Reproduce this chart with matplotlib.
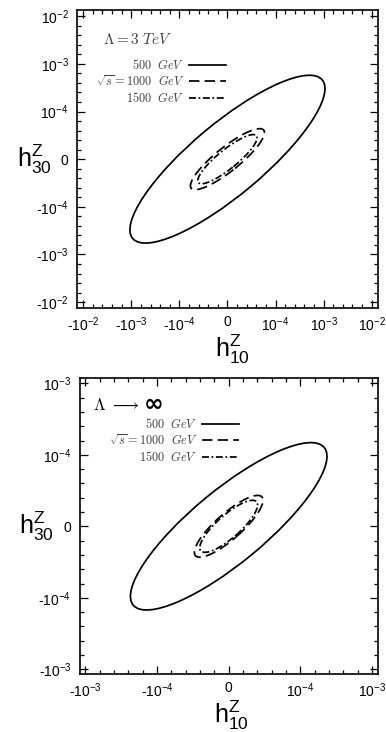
"""Allowed regions in the (h10^Z, h30^Z) plane for three collider energies, two cut-off scales."""
import matplotlib
matplotlib.use("Agg")
import matplotlib.pyplot as plt
from matplotlib.lines import Line2D
from matplotlib.patches import Ellipse
from matplotlib.ticker import FixedLocator, MultipleLocator

plt.rcParams["font.family"] = ["Liberation Sans", "DejaVu Sans"]
plt.rcParams["mathtext.fontset"] = "custom"
plt.rcParams["mathtext.rm"] = "Liberation Sans"
plt.rcParams["mathtext.it"] = "Liberation Sans:italic"
plt.rcParams["mathtext.bf"] = "Liberation Sans:bold"

# --- data: axes are in "decade" units (0 = zero, +-1 = +-1e-4, +-2 = +-1e-3, +-3 = +-1e-2) ---------- #
ENERGIES_GEV = ["500", "1000", "1500"]

TOP_TICKS = [-3, -2, -1, 0, 1, 2, 3]
TOP_TICK_LABELS = ["-$10^{-2}$", "-$10^{-3}$", "-$10^{-4}$", "0", "$10^{-4}$", "$10^{-3}$", "$10^{-2}$"]
TOP_SEMI_MAJOR = [2.58, 0.97, 0.78]
TOP_SEMI_MINOR = [0.75, 0.25, 0.20]
TOP_ANGLE_DEG = [40.2, 39.0, 39.2]

BOTTOM_TICKS = [-2, -1, 0, 1, 2]
BOTTOM_TICK_LABELS = ["-$10^{-3}$", "-$10^{-4}$", "0", "$10^{-4}$", "$10^{-3}$"]
BOTTOM_SEMI_MAJOR = [1.73, 0.62, 0.52]
BOTTOM_SEMI_MINOR = [0.51, 0.18, 0.16]
BOTTOM_ANGLE_DEG = [39.6, 41.5, 41.4]

LINESTYLES = ["-", (0, (6, 3)), (0, (4, 1.5, 1, 1.5))]


def draw_panel(ax, ticks, labels, semi_major, semi_minor, angles, lim, label_pos):
    for a, b, ang, ls in zip(semi_major, semi_minor, angles, LINESTYLES):
        ax.add_patch(Ellipse((0.0, 0.0), 2 * a, 2 * b, angle=ang, fill=False,
                             ec="black", lw=1.25, ls=ls))
    ax.set_xlim(-lim[0], lim[0])
    ax.set_ylim(-lim[1], lim[1])
    for axis in (ax.xaxis, ax.yaxis):
        axis.set_major_locator(FixedLocator(ticks))
        axis.set_minor_locator(MultipleLocator(0.2))
    ax.set_xticklabels(labels)
    ax.set_yticklabels(labels)
    ax.tick_params(which="both", direction="in", top=True, right=True, labelsize=10, width=0.9)
    ax.tick_params(which="major", length=5.5)
    ax.tick_params(which="minor", length=3)
    ax.tick_params(axis="y", pad=6)
    ax.tick_params(axis="x", pad=5)
    for s in ax.spines.values():
        s.set_linewidth(1.2)
    ax.set_xlabel(r"$\mathregular{h^Z_{10}}$", fontsize=18, va="center", ha="center")
    ax.set_ylabel(r"$\mathregular{h^Z_{30}}$", fontsize=18, rotation=0, va="center", ha="center")
    ax.xaxis.set_label_coords(label_pos[0], label_pos[1])
    ax.yaxis.set_label_coords(label_pos[2], 0.5)


def add_legend(ax, anchor):
    handles = [Line2D([], [], color="black", lw=1.25, ls=ls) for ls in LINESTYLES]
    labels = [r"$500\ \ GeV$", r"$\sqrt{s}=1000\ \ GeV$", r"$1500\ \ GeV$"]
    leg = ax.legend(handles, labels, loc="upper right", bbox_to_anchor=anchor, frameon=False,
                    markerfirst=False, fontsize=8.8, handlelength=3.0, handletextpad=0.4,
                    labelspacing=0.2, borderpad=0, borderaxespad=0)
    for t in leg.get_texts():
        t.set_math_fontfamily("cm")
        t.set_color("0.25")


fig = plt.figure(figsize=(3.86, 7.32), dpi=100)
ax_top = fig.add_axes([0.1995, 0.5788, 0.7795, 0.4075])
ax_bot = fig.add_axes([0.2065, 0.0788, 0.772, 0.4044])

draw_panel(ax_top, TOP_TICKS, TOP_TICK_LABELS, TOP_SEMI_MAJOR, TOP_SEMI_MINOR, TOP_ANGLE_DEG,
           (3.13, 3.13), (0.518, -0.136, -0.14))
draw_panel(ax_bot, BOTTOM_TICKS, BOTTOM_TICK_LABELS, BOTTOM_SEMI_MAJOR, BOTTOM_SEMI_MINOR,
           BOTTOM_ANGLE_DEG, (2.08, 2.07), (0.51, -0.139, -0.145))

ax_top.text(0.086, 0.90, r"$\Lambda = 3\ TeV$", transform=ax_top.transAxes, fontsize=11,
            ha="left", va="center", math_fontfamily="cm", color="0.25")
ax_bot.text(0.045, 0.91, r"$\Lambda\ \longrightarrow$", transform=ax_bot.transAxes, fontsize=12,
            ha="left", va="center", math_fontfamily="cm")
ax_bot.text(0.248, 0.912, "\u221e", transform=ax_bot.transAxes, fontsize=17, fontweight="bold",
            family="DejaVu Sans", ha="center", va="center")

add_legend(ax_top, (0.495, 0.839))
add_legend(ax_bot, (0.535, 0.869))

fig.savefig("out.png", dpi=100)
